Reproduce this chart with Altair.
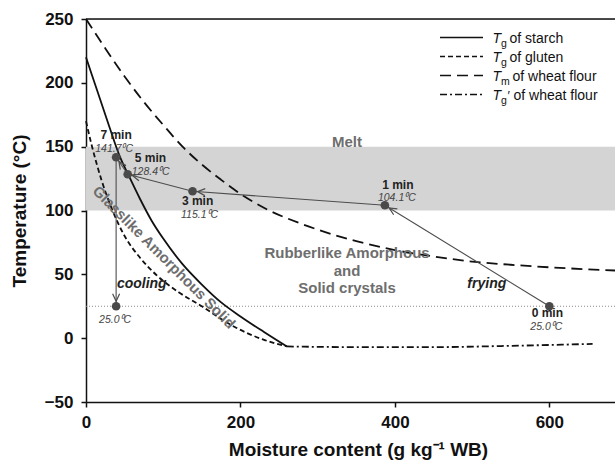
import math
import altair as alt
import pandas as pd

# ---------------- data ----------------
# Tg of starch (solid)
starch_x = [0, 15, 30, 44, 54, 70, 85, 100, 125, 150, 175, 200, 230, 260]
starch_y = [220, 193, 166, 142, 129, 109, 92, 78, 58, 42, 28, 17, 5, -6.5]
# Tg of gluten (short dash)
gluten_x = [0, 7, 20, 33, 50, 70, 92, 120, 150, 175, 195, 229, 260]
gluten_y = [170, 152, 124, 102, 80, 63, 49, 36, 25, 15, 8, -1, -6.5]
# Tm of wheat flour (long dash)
tm_x = [0, 25, 50, 75, 100, 125, 150, 175, 200, 234, 277, 300, 350, 400, 450, 500, 550, 600, 685]
tm_y = [250, 227, 205, 185, 167, 150, 136, 124, 113, 101, 90, 85, 76, 69, 64, 60, 57.5, 55.5, 53]
# Tg' of wheat flour (dash-dot)
tgp_x = [260, 350, 450, 550, 656]
tgp_y = [-6.5, -7, -7, -6, -4.5]

# frying / cooling process
proc_time = ["0 min", "1 min", "3 min", "5 min", "7 min", ""]
proc_x = [600, 387, 138, 54, 39, 39]
proc_y = [25.0, 104.1, 115.1, 128.4, 141.7, 25.0]
arrow_src = [0, 1, 2, 3, 4]
arrow_dst = [1, 2, 3, 4, 5]

melt_band = [100, 150]
room_temp = [25]

x_ticks = [0, 200, 400, 600]
y_ticks = [-50, 0, 50, 100, 150, 200, 250]

legend_sub = ["g", "g", "m", "g"]
legend_prime = ["", "", "", "\u2032"]
legend_rest = ["of starch", "of gluten", "of wheat flour", "of wheat flour"]

# ---------------- layout / style ----------------
W, H = 529, 383
XMAX = 685
YMIN, YMAX = -50, 250
FONT = "Liberation Sans"
INK = "#111111"
GREY_TXT = "#6e6e6e"

x_scale = alt.Scale(domain=[0, XMAX], nice=False, zero=False)
y_scale = alt.Scale(domain=[YMIN, YMAX], nice=False, zero=False)

x_axis = alt.Axis(
    values=x_ticks, grid=False, labelFont=FONT, labelFontSize=17, labelFontWeight="bold",
    labelColor=INK, titleFont=FONT, titleFontSize=19, titleFontWeight="bold", titleColor=INK,
    tickSize=5, tickWidth=1.5, tickColor=INK, domainColor=INK, domainWidth=1.5,
    labelPadding=7, titleX=272, titleY=53, titleBaseline="alphabetic", labelFlush=False,
)
y_axis = alt.Axis(
    values=y_ticks, grid=False, labelFont=FONT, labelFontSize=17, labelFontWeight="bold",
    labelColor=INK, titleFont=FONT, titleFontSize=19, titleFontWeight="bold", titleColor=INK,
    tickSize=5, tickWidth=1.5, tickColor=INK, domainColor=INK, domainWidth=1.5,
    labelPadding=8, titleX=-61, titleY=191.5, titleBaseline="alphabetic", labelFlush=False,
)
X_TITLE = "Moisture content (g kg\u207b\u00b9 WB)"
Y_TITLE = "Temperature (\u00b0C)"


def X(field="x"):
    return alt.X(f"{field}:Q", scale=x_scale, axis=x_axis, title=X_TITLE)


def Y(field="y"):
    return alt.Y(f"{field}:Q", scale=y_scale, axis=y_axis, title=Y_TITLE)


layers = []

# melt band
band_df = pd.DataFrame({"x": [0], "x2": [XMAX], "y": [melt_band[0]], "y2": [melt_band[1]]})
layers.append(
    alt.Chart(band_df).mark_rect(color="#d4d4d4").encode(x=X(), x2="x2:Q", y=Y(), y2="y2:Q")
)

# room-temperature dotted line
rt_df = pd.DataFrame({"y": room_temp})
layers.append(
    alt.Chart(rt_df).mark_rule(color="#8a8a8a", strokeWidth=1, strokeDash=[1, 2]).encode(y=Y())
)

# top frame line at 250
top_df = pd.DataFrame({"y": [YMAX]})
layers.append(alt.Chart(top_df).mark_rule(color=INK, strokeWidth=1.5).encode(y=Y()))

# curves
def curve(xs, ys, dash):
    df = pd.DataFrame({"x": xs, "y": ys})
    kw = dict(color=INK, strokeWidth=1.8, interpolate="monotone")
    if dash:
        kw["strokeDash"] = dash
    return alt.Chart(df).mark_line(**kw).encode(x=X(), y=Y(), order="x:Q")


layers.append(curve(starch_x, starch_y, None))
layers.append(curve(gluten_x, gluten_y, [5, 3]))
layers.append(curve(tm_x, tm_y, [11, 6]))
layers.append(curve(tgp_x, tgp_y, [7, 3, 2, 3]))

# arrows
sx = W / XMAX
sy = H / (YMAX - YMIN)
seg = []
for s, d in zip(arrow_src, arrow_dst):
    dxp = (proc_x[d] - proc_x[s]) * sx
    dyp = -(proc_y[d] - proc_y[s]) * sy
    ang = math.degrees(math.atan2(dyp, dxp)) % 360
    seg.append({"x": proc_x[s], "y": proc_y[s], "x2": proc_x[d], "y2": proc_y[d], "ang": ang})
seg_df = pd.DataFrame(seg)
layers.append(
    alt.Chart(seg_df).mark_rule(color="#4d4d4d", strokeWidth=1.1).encode(
        x=X(), y=Y(), x2="x2:Q", y2="y2:Q"
    )
)

# process points
pts_df = pd.DataFrame({"x": proc_x, "y": proc_y, "t": proc_time,
                       "temp": [f"{v:.1f}\u2070C" for v in proc_y]})
layers.append(
    alt.Chart(pts_df).mark_circle(size=75, color="#4a4a4a", opacity=1).encode(x=X(), y=Y())
)

# arrowheads (open V, tip at circle edge)
head_df = seg_df[["x2", "y2", "ang"]].rename(columns={"x2": "x", "y2": "y"})
layers.append(
    alt.Chart(head_df).mark_point(
        shape="M -2.5 -0.7 L -1 0 L -2.5 0.7", size=100, filled=False,
        color="#4d4d4d", strokeWidth=1.2, opacity=1,
    ).encode(x=X(), y=Y(), angle=alt.Angle("ang:Q", scale=None))
)

# point labels: (align, dx, dy) for time and temperature text
time_off = [("center", -2, 11), ("center", 13, -16.5), ("center", 5, 13.5),
            ("left", 7, -12), ("center", 0, -18.5), None]
temp_off = [("center", -3, 24), ("center", 12, -4.5), ("center", 7, 26.5),
            ("left", 4, 0.5), ("center", -2, -5.5), ("center", -1, 17)]
for i in range(len(proc_x)):
    row = pts_df.iloc[[i]]
    if time_off[i] is not None:
        a, dx, dy = time_off[i]
        layers.append(
            alt.Chart(row).mark_text(align=a, dx=dx, dy=dy, baseline="alphabetic", font=FONT,
                                     fontSize=12, fontWeight="bold", color="#222222")
            .encode(x=X(), y=Y(), text="t:N")
        )
    a, dx, dy = temp_off[i]
    layers.append(
        alt.Chart(row).mark_text(align=a, dx=dx, dy=dy, baseline="alphabetic", font=FONT,
                                 fontSize=10.5, fontStyle="italic", color="#444444")
        .encode(x=X(), y=Y(), text="temp:N")
    )

# region labels
def note(x, y, text, **kw):
    df = pd.DataFrame({"x": [x], "y": [y], "t": [text]})
    base = dict(font=FONT, baseline="alphabetic", align="center")
    base.update(kw)
    return alt.Chart(df).mark_text(**base).encode(x=X(), y=Y(), text="t:N")


layers.append(note(338, 150, "Melt", fontSize=15, fontWeight="bold", color=GREY_TXT))
layers.append(note(338, 62.5, "Rubberlike Amorphous\nand\nSolid crystals", fontSize=15,
                   fontWeight="bold", color=GREY_TXT, lineBreak="\n", lineHeight=17.5))
layers.append(note(101, 63.3, "Glasslike Amorphous Solid", fontSize=15, fontWeight="bold",
                   color=GREY_TXT, angle=45, baseline="middle"))
layers.append(note(40, 39, "cooling", fontSize=14, fontWeight="bold", fontStyle="italic",
                   color="#222222", align="left"))
layers.append(note(519, 39, "frying", fontSize=14, fontWeight="bold", fontStyle="italic",
                   color="#222222"))

# manual legend (pixel placement inside the plot area)
leg_dash = [None, [5, 3], [11, 6], [7, 3, 2, 3]]
for i in range(4):
    cy = 18.5 + 19 * i
    bl = cy + 5
    rk = dict(color=INK, strokeWidth=1.6)
    if leg_dash[i]:
        rk["strokeDash"] = leg_dash[i]
    one = pd.DataFrame({"a": [0]})
    layers.append(alt.Chart(one).mark_rule(**rk).encode(
        x=alt.value(354), x2=alt.value(397), y=alt.value(cy)))
    layers.append(alt.Chart(one).mark_text(
        text="T", font=FONT, fontSize=14, fontStyle="italic", color=INK, align="left",
        baseline="alphabetic").encode(x=alt.value(406.5), y=alt.value(bl)))
    layers.append(alt.Chart(one).mark_text(
        text=legend_sub[i], font=FONT, fontSize=10.5, color=INK, align="left",
        baseline="alphabetic").encode(x=alt.value(415), y=alt.value(bl + 4.5)))
    if legend_prime[i]:
        layers.append(alt.Chart(one).mark_text(
            text=legend_prime[i], font=FONT, fontSize=13, color=INK, align="left",
            baseline="alphabetic").encode(x=alt.value(421.5), y=alt.value(bl)))
    if legend_prime[i]:
        rest_x = 427.5
    elif legend_sub[i] == "m":
        rest_x = 426.5
    else:
        rest_x = 423.5
    layers.append(alt.Chart(one).mark_text(
        text=legend_rest[i], font=FONT, fontSize=14, color=INK, align="left",
        baseline="alphabetic").encode(x=alt.value(rest_x), y=alt.value(bl)))

chart = alt.layer(*layers).properties(
    width=W, height=H,
    padding={"left": 86, "top": 19, "right": 0, "bottom": 60},
    autosize="none",
).configure_view(stroke=None).configure(background="white")

chart.save("out.html", embed_options={"renderer": "svg", "actions": False})
